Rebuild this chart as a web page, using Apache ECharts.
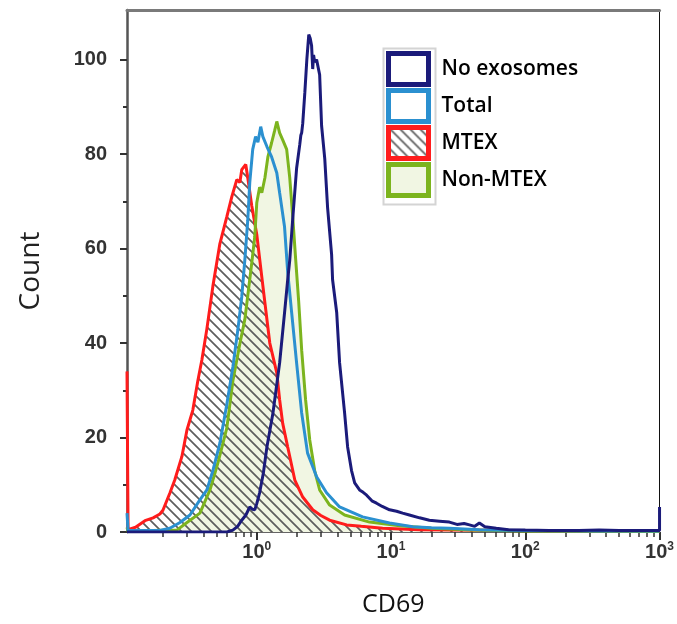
<!DOCTYPE html>
<html><head><meta charset="utf-8">
<script src="https://cdn.jsdelivr.net/npm/echarts@6/dist/echarts.min.js"></script>
<style>html,body{margin:0;padding:0;background:#fff}#c{width:677px;height:624px}</style>
</head><body><div id="c"></div>
<script>
// ---- data (CD69 value, count) ----
const seriesNames = ['No exosomes', 'Total', 'MTEX', 'Non-MTEX'];
const noExosomes = [[0.108,0],[0.60,0],[0.664,0.4],[0.72,1.2],[0.773,2.5],[0.83,3.6],[0.887,5.3],[0.93,4.8],[0.966,4.7],[1.0,6],[1.05,8.3],[1.12,12.5],[1.19,18],[1.32,25.2],[1.48,35.8],[1.61,46.4],[1.70,53.4],[1.76,57.5],[1.85,66],[1.98,77],[2.09,82],[2.13,84],[2.16,84.5],[2.2,86.5],[2.28,93],[2.36,100],[2.44,105.3],[2.5,104.5],[2.56,103],[2.61,98],[2.65,101],[2.70,99.5],[2.79,100],[2.94,96.8],[3.04,86],[3.21,79],[3.37,68.6],[3.61,58.7],[3.67,53.4],[3.94,46.4],[4.14,35.8],[4.51,25.2],[4.75,18],[5.08,13],[5.36,10.4],[5.83,8.9],[6.2,8.4],[6.58,7.8],[7.2,6.6],[7.80,6.1],[8.6,5.4],[9.75,4.7],[11,4.4],[12.2,4],[13.7,3.6],[16.3,3],[19.3,2.5],[23,2.3],[27.2,2.1],[31,1.6],[35,1.8],[38.4,1.5],[42,1.2],[45.5,1.9],[50,1.1],[60.8,0.8],[75,0.5],[100,0.4],[150,0.3],[250,0.3],[355,0.4],[500,0.3],[800,0.3],[1000,0.3],[1000,5.3]];
const total = [[0.108,4],[0.11,0.3],[0.19,0.3],[0.225,0.8],[0.268,2],[0.318,3.6],[0.377,6.8],[0.425,8.9],[0.471,13],[0.531,18.8],[0.598,27],[0.664,35],[0.723,42.8],[0.773,49.8],[0.815,57.6],[0.857,66],[0.887,74],[0.933,81],[0.98,83.7],[1.02,82.5],[1.07,85.8],[1.11,83.7],[1.19,81.6],[1.29,79.4],[1.41,76],[1.48,71.8],[1.61,64.6],[1.70,55],[1.82,46.4],[1.98,35.8],[2.16,25.2],[2.39,16.7],[2.79,11.7],[3.31,8.3],[4.14,5.3],[6.14,3.2],[9.75,1.9],[14.5,1.1],[20,0.9],[27.2,0.8],[45.5,0.5],[100,0.3],[355,0.2],[1000,0.2]];
const mtex = [[0.108,34],[0.11,0.5],[0.125,1],[0.147,2.4],[0.169,3],[0.19,3.8],[0.2,4.6],[0.225,8.2],[0.245,11],[0.277,16],[0.302,21.6],[0.334,25.8],[0.364,32],[0.39,36.4],[0.425,43],[0.471,52],[0.531,61],[0.598,66.7],[0.652,71],[0.710,74.6],[0.748,74],[0.773,76.7],[0.828,77.8],[0.857,75],[0.918,69],[1.0,63],[1.09,54],[1.15,48.5],[1.25,40],[1.41,33.7],[1.48,28],[1.56,23],[1.70,18],[1.92,11],[2.20,7.4],[2.61,4.7],[3.0,3.5],[3.49,2.5],[4.67,1.5],[6,1.2],[8.65,0.8],[16.3,0.5],[100,0.3],[1000,0.1]];
const nonMtex = [[0.108,1],[0.11,0.2],[0.254,0.4],[0.302,2],[0.377,4],[0.448,8.9],[0.513,14.6],[0.598,22],[0.664,32],[0.75,40],[0.815,45],[0.857,50],[0.918,57],[0.966,62.5],[1.0,69.7],[1.05,73],[1.09,71.8],[1.15,75],[1.21,79.4],[1.29,82.4],[1.36,85],[1.41,86.9],[1.48,84.5],[1.56,83],[1.67,81],[1.76,75],[1.85,67],[1.95,57.6],[2.05,49],[2.16,38.5],[2.31,28],[2.48,19.5],[2.70,13],[2.94,8.9],[3.49,5.7],[4.51,3.6],[6.92,2.1],[11.6,1.3],[20,0.8],[40,0.4],[100,0.2],[1000,0.1]];

const xTickExponents = [0, 1, 2, 3];
const yTicks = [0, 20, 40, 60, 80, 100];
const yMinorTicks = [10, 30, 50, 70, 90];
const xMinValue = 0.108, xMaxValue = 1000, yMaxValue = 110.5;

// ---- helpers ----
const toLog = arr => arr.map(p => [Math.log10(p[0]), p[1]]);
const xMinorTicks = [];
for (let d = -1; d < 3; d++) for (let k = 2; k <= 9; k++) {
  const v = Math.log10(k * Math.pow(10, d));
  if (v >= Math.log10(xMinValue)) xMinorTicks.push(v);
}
function hatchCanvas() {
  const n = 10, c = document.createElement('canvas');
  c.width = n; c.height = n;
  const g = c.getContext('2d');
  g.strokeStyle = '#5e5e5e'; g.lineWidth = 1.7;
  g.beginPath();
  g.moveTo(-1, -1); g.lineTo(n + 1, n + 1);
  g.moveTo(-2, n - 2); g.lineTo(2, n + 2);
  g.moveTo(n - 2, -2); g.lineTo(n + 2, 2);
  g.stroke();
  return c;
}
const hatch = { image: hatchCanvas(), repeat: 'repeat' };

const C = { navy: '#1b1b7a', blue: '#2b90d0', red: '#ff1c1c', green: '#7cb41e', pale: '#f1f6e3' };
const FONT = 'Liberation Sans';

const chart = echarts.init(document.getElementById('c'), null, { renderer: 'canvas' });
const noLine = { width: 0, opacity: 0 };
chart.setOption({
  animation: false,
  grid: { left: 127, right: 16, top: 10, bottom: 92 },
  legend: {
    orient: 'vertical', left: 386, top: 51, padding: 0, itemWidth: 40, itemHeight: 31, itemGap: 1,
    selectedMode: false,
    textStyle: { color: '#000', fontFamily: 'Open Sans', fontSize: 21, fontWeight: 600, lineHeight: 24, padding: [0, 0, 0, 8] },
    data: [
      { name: 'No exosomes', icon: 'rect', itemStyle: { color: '#fff', borderColor: C.navy, borderWidth: 5 } },
      { name: 'Total', icon: 'rect', itemStyle: { color: '#fff', borderColor: C.blue, borderWidth: 5 } },
      { name: 'MTEX', icon: 'rect', itemStyle: { color: hatch, borderColor: C.red, borderWidth: 5 } },
      { name: 'Non-MTEX', icon: 'rect', itemStyle: { color: C.pale, borderColor: C.green, borderWidth: 5 } }
    ]
  },
  graphic: [{ type: 'rect', left: 381, top: 46, shape: { width: 52, height: 156 }, style: { fill: 'none', stroke: '#d4d4d4', lineWidth: 2 }, z: -1 }],
  xAxis: [
    {
      type: 'value', min: Math.log10(xMinValue), max: Math.log10(xMaxValue), position: 'bottom',
      splitLine: { show: false },
      axisLine: { onZero: false, lineStyle: { color: '#333', width: 1.5 } },
      axisTick: { customValues: xTickExponents, length: 8, lineStyle: { color: '#333', width: 2 } },
      axisLabel: {
        customValues: xTickExponents, margin: 9,
        formatter: v => '{b|10}{s|' + Math.round(v) + '}',
        rich: {
          b: { fontSize: 20, fontFamily: FONT, fontWeight: 'bold', color: '#333', lineHeight: 22 },
          s: { fontSize: 12, fontFamily: FONT, fontWeight: 'bold', color: '#333', verticalAlign: 'top', lineHeight: 12 }
        }
      },
      name: 'CD69', nameLocation: 'middle', nameGap: 60,
      nameTextStyle: { fontFamily: 'Open Sans', fontSize: 25, color: '#111' }
    },
    {
      type: 'value', min: Math.log10(xMinValue), max: Math.log10(xMaxValue), position: 'bottom',
      splitLine: { show: false }, axisLine: { show: false, onZero: false },
      axisTick: { customValues: xMinorTicks, length: 5, lineStyle: { color: '#333', width: 1.5 } },
      axisLabel: { show: false }
    },
    {
      type: 'value', min: Math.log10(xMinValue), max: Math.log10(xMaxValue), position: 'top',
      splitLine: { show: false }, axisTick: { show: false }, axisLabel: { show: false },
      axisLine: { onZero: false, lineStyle: { color: '#7a7a7a', width: 3 } }
    }
  ],
  yAxis: [
    {
      type: 'value', min: 0, max: yMaxValue, position: 'left',
      splitLine: { show: false },
      axisLine: { show: true, onZero: false, lineStyle: { color: '#555', width: 2.5 } },
      axisTick: { customValues: yTicks, length: 7, lineStyle: { color: '#333', width: 2 } },
      axisLabel: { customValues: yTicks, margin: 20, fontSize: 20, fontFamily: FONT, fontWeight: 'bold', color: '#333' },
      name: 'Count', nameLocation: 'middle', nameGap: 82,
      nameTextStyle: { fontFamily: 'Open Sans', fontSize: 28, color: '#222' }
    },
    {
      type: 'value', min: 0, max: yMaxValue, position: 'left',
      splitLine: { show: false }, axisLine: { show: false, onZero: false },
      axisTick: { customValues: yMinorTicks, length: 4, lineStyle: { color: '#333', width: 2 } },
      axisLabel: { show: false }
    },
    {
      type: 'value', min: 0, max: yMaxValue, position: 'right',
      splitLine: { show: false }, axisTick: { show: false }, axisLabel: { show: false },
      axisLine: { show: true, onZero: false, lineStyle: { color: '#111', width: 1 } }
    }
  ],
  series: [
    { name: 'Non-MTEX', type: 'line', data: toLog(nonMtex), showSymbol: false, silent: true, z: 2,
      lineStyle: noLine, areaStyle: { color: C.pale, opacity: 1 } },
    { name: 'MTEX', type: 'line', data: toLog(mtex), showSymbol: false, silent: true, z: 3,
      lineStyle: noLine, areaStyle: { color: hatch, opacity: 1 } },
    { name: 'MTEX', type: 'line', data: toLog(mtex), showSymbol: false, z: 4,
      lineStyle: { color: C.red, width: 3 }, itemStyle: { color: C.red } },
    { name: 'Non-MTEX', type: 'line', data: toLog(nonMtex), showSymbol: false, z: 5,
      lineStyle: { color: C.green, width: 3 }, itemStyle: { color: C.green } },
    { name: 'Total', type: 'line', data: toLog(total), showSymbol: false, z: 6,
      lineStyle: { color: C.blue, width: 3 }, itemStyle: { color: C.blue } },
    { name: 'No exosomes', type: 'line', data: toLog(noExosomes), showSymbol: false, z: 7,
      lineStyle: { color: C.navy, width: 3 }, itemStyle: { color: C.navy } }
  ]
});
</script></body></html>
